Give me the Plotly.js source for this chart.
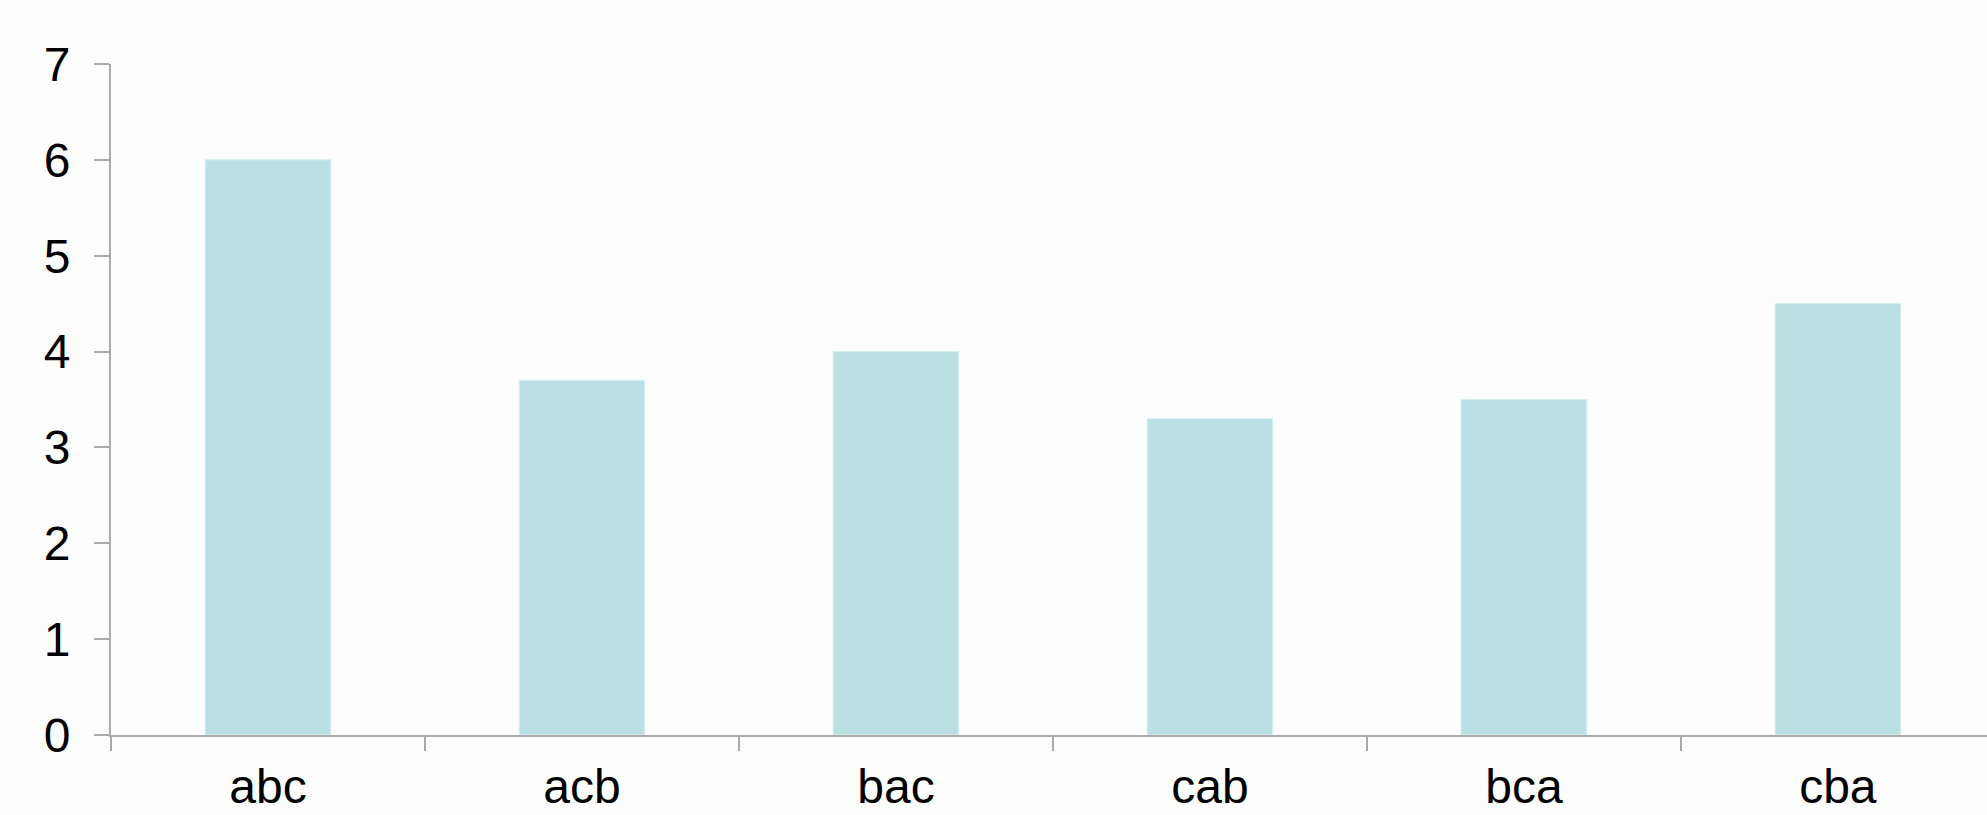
<!DOCTYPE html>
<html>
<head>
<meta charset="utf-8">
<script src="https://cdn.plot.ly/plotly-3.0.1.min.js"></script>
<style>html,body{margin:0;padding:0;background:#fdfdfd;}#chart{width:1987px;height:815px;}</style>
</head>
<body>
<div id="chart"></div>
<script>
const categories = ["abc", "acb", "bac", "cab", "bca", "cba"];
const values = [6, 3.7, 4.0, 3.3, 3.5, 4.5];
const yTicks = [0, 1, 2, 3, 4, 5, 6, 7];

const trace = {
  type: "bar",
  x: categories,
  y: values,
  width: 0.4,
  marker: { color: "#bbe0e3", line: { color: "#d6eef0", width: 1 } },
  hoverinfo: "x+y"
};

const layout = {
  width: 1987,
  height: 815,
  margin: { l: 111, r: 0, t: 64, b: 80 },
  paper_bgcolor: "#fdfdfd",
  plot_bgcolor: "#fdfdfd",
  showlegend: false,
  font: { family: "Liberation Sans, Arial, sans-serif", size: 48, color: "#000" },
  xaxis: {
    type: "category",
    range: [-0.5, 5.475],
    showline: true,
    linecolor: "#aaaaaa",
    linewidth: 2,
    ticks: "outside",
    tickson: "boundaries",
    ticklen: 14,
    tickwidth: 2,
    tickcolor: "#aaaaaa",
    showgrid: false,
    zeroline: false,
    ticklabelstandoff: 8,
    tickfont: { size: 48, color: "#000" }
  },
  yaxis: {
    range: [0, 7],
    tickvals: yTicks,
    ticktext: yTicks.map(String),
    showline: true,
    linecolor: "#aaaaaa",
    linewidth: 2,
    ticks: "outside",
    ticklen: 15,
    tickwidth: 2,
    tickcolor: "#aaaaaa",
    showgrid: false,
    zeroline: false,
    ticklabelstandoff: 14,
    tickfont: { size: 48, color: "#000" }
  },
  bargap: 0.6
};

Plotly.newPlot("chart", [trace], layout, { staticPlot: true, displayModeBar: false });
</script>
</body>
</html>
